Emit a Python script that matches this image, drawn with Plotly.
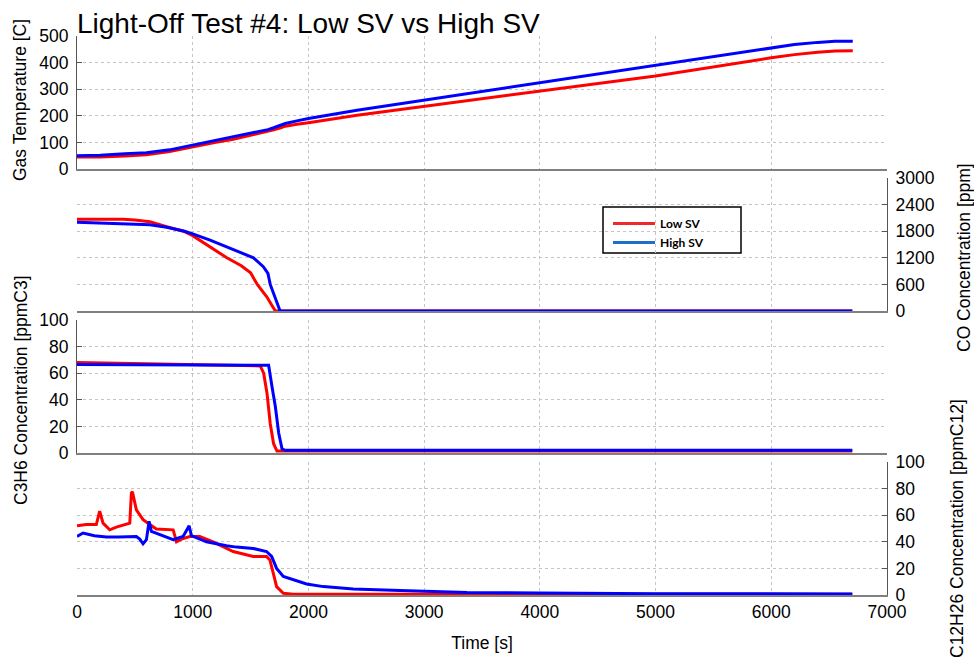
import plotly.graph_objects as go
from plotly.subplots import make_subplots

# ---------------- data ----------------
temp_time = [0, 200, 414, 600, 800, 1000, 1200, 1340, 1500, 1650, 1700, 1760, 1800, 1900,
             2000, 2420, 3000, 3500, 4000, 4174, 5000, 6000, 6200, 6400, 6550, 6704]
temp_low = [45, 45, 49, 54, 66, 84, 100, 111, 127, 141, 147, 155, 161, 168,
            174, 202, 235, 264, 293, 303, 350, 418, 430, 439, 444, 445]
temp_high = [50, 52, 57, 61, 72, 90, 107, 119, 135, 148, 155, 166, 171, 181,
             190, 221, 259, 291, 323, 334, 388, 455, 468, 476, 480, 480]

co_low_time = [0, 200, 400, 500, 630, 775, 920, 1000, 1150, 1295, 1420, 1500, 1558,
               1640, 1690, 1715, 6700]
co_low = [2072, 2078, 2068, 2055, 2015, 1900, 1800, 1700, 1440, 1200, 1020, 860, 600,
          320, 100, 0, 0]
co_high_time = [0, 200, 400, 500, 630, 775, 930, 1000, 1150, 1320, 1460, 1525, 1610,
                1650, 1670, 1690, 1715, 1755, 6700]
co_high = [2000, 1985, 1968, 1960, 1945, 1890, 1800, 1740, 1600, 1420, 1260, 1200, 1000,
           850, 600, 450, 250, 0, 0]

c3h6_low_time = [0, 300, 700, 1000, 1400, 1584, 1613, 1642, 1670, 1699, 1728, 1800, 6700]
c3h6_low = [68, 67.5, 67, 66.5, 66, 65.5, 60, 45, 22, 7, 1.5, 1.5, 1.5]
c3h6_high_time = [0, 500, 1000, 1500, 1656, 1685, 1714, 1743, 1772, 1800, 6700]
c3h6_high = [66.5, 66.5, 66, 66, 66, 50, 35, 15, 3, 2, 2]

c12_low_time = [0, 81, 167, 196, 225, 283, 340, 456, 470, 479, 513, 571, 629, 686, 831,
                860, 903, 975, 1061, 1177, 1350, 1523, 1638, 1667, 1696, 1725, 1783,
                1869, 6700]
c12_low = [52, 53, 53, 63, 54, 49, 51, 54, 76.8, 77.6, 64, 56.7, 53, 49.6, 49,
           40, 42, 44, 44, 40, 32.7, 29, 29, 26.4, 16.4, 6.3, 1.3, 0.5, 0.5]
c12_high_time = [0, 52, 150, 254, 360, 513, 542, 571, 600, 623, 643, 715, 831, 917, 969,
                 989, 1119, 1292, 1379, 1523, 1638, 1682, 1725, 1783, 1869, 1984, 2129,
                 2388, 2792, 3369, 4000, 4950, 5000, 6700]
c12_high = [44, 46.6, 44.6, 43.6, 43.6, 44, 42, 38.5, 41.6, 55.4, 47.9, 45.3, 41.6, 44, 52,
            44.6, 40, 37, 36, 35, 32.7, 29, 20, 13.9, 11.3, 8.3, 6.3,
            4.5, 3.3, 1.8, 1.5, 1.5, 1.0, 0.8]

series_names = ["Low SV", "High SV"]
line_colors = ["#ff0000", "#0000ff"]
legend_colors = ["#f0282c", "#1f6fc8"]

title_text = "Light-Off Test #4: Low SV vs High SV"
y_titles = ["Gas Temperature [C]", "CO Concentration [ppm]",
            "C3H6 Concentration [ppmC3]", "C12H26 Concentration [ppmC12]"]
y_ranges = [[0, 500], [0, 3000], [0, 100], [0, 100]]
y_dticks = [100, 600, 20, 20]
y_sides = ["left", "right", "left", "right"]
x_ticks = [0, 1000, 2000, 3000, 4000, 5000, 6000, 7000]

# ---------------- figure ----------------
W, H = 974, 666
ML, MR, MT, MB = 77, 87, 36, 71
PW, PH = W - ML - MR, H - MT - MB
gap = 9 / PH

fig = make_subplots(rows=4, cols=1, shared_xaxes=True, vertical_spacing=gap)

panels = [
    ((temp_time, temp_low), (temp_time, temp_high)),
    ((co_low_time, co_low), (co_high_time, co_high)),
    ((c3h6_low_time, c3h6_low), (c3h6_high_time, c3h6_high)),
    ((c12_low_time, c12_low), (c12_high_time, c12_high)),
]
for r, pair in enumerate(panels, start=1):
    for k, (xs, ys) in enumerate(pair):
        fig.add_trace(go.Scatter(x=xs, y=ys, mode="lines", name=series_names[k],
                                 line=dict(color=line_colors[k], width=3),
                                 showlegend=False), row=r, col=1)

# legend entries
for k in range(2):
    fig.add_trace(go.Scatter(x=[None], y=[None], mode="lines", name=series_names[k],
                             line=dict(color=legend_colors[k], width=3),
                             showlegend=True), row=2, col=1)

FONT = "Liberation Sans, Arial, sans-serif"
GRID = "#c4c4c4"

for r in range(1, 5):
    fig.update_xaxes(range=[0, 7000], tickvals=x_ticks, showgrid=True, gridcolor=GRID,
                     griddash="dot", gridwidth=1, showline=True, linecolor="#808080",
                     linewidth=2, zeroline=False, ticks="", showticklabels=(r == 4),
                     tickfont=dict(family=FONT, size=17.5, color="black"),
                     row=r, col=1)
    fig.update_yaxes(range=y_ranges[r - 1], dtick=y_dticks[r - 1], side=y_sides[r - 1],
                     showgrid=True, gridcolor=GRID, griddash="dot", gridwidth=1,
                     showline=True, linecolor="#555555", linewidth=1, zeroline=False,
                     ticks="inside", ticklen=5, tickcolor="#555555",
                     tickfont=dict(family=FONT, size=17.5, color="black"),
                     ticklabelstandoff=4, row=r, col=1)

fig.update_xaxes(title=dict(text="Time [s]", font=dict(family=FONT, size=17.5, color="black"),
                            standoff=16), row=4, col=1)

def px_to_px(x):
    return (x - ML) / PW

def py_to_py(y):
    return 1 - (y - MT) / PH

annos = []
title_pos = [(20, 100), (964, 258), (21, 390), (957, 529)]
for t, (ax_, ay_) in zip(y_titles, title_pos):
    annos.append(dict(text=t, xref="paper", yref="paper", x=px_to_px(ax_), y=py_to_py(ay_),
                      xanchor="center", yanchor="middle", textangle=-90, showarrow=False,
                      font=dict(family=FONT, size=17.5, color="black")))

fig.update_layout(
    width=W, height=H,
    margin=dict(l=ML, r=MR, t=MT, b=MB),
    paper_bgcolor="white", plot_bgcolor="white",
    title=dict(text=title_text, xref="container", x=77 / W, xanchor="left",
               yref="container", y=1 - 23 / H, yanchor="middle",
               font=dict(family=FONT, size=28, color="black")),
    annotations=annos,
    showlegend=True,
    legend=dict(x=px_to_px(608), y=py_to_py(209), xanchor="left", yanchor="top",
                bgcolor="rgba(0,0,0,0)", borderwidth=0,
                font=dict(family="Lato, Carlito, sans-serif", size=12, color="black",
                          weight="bold"),
                itemwidth=42),
    shapes=[dict(type="rect", xref="paper", yref="paper",
                 x0=px_to_px(603), x1=px_to_px(741), y0=py_to_py(253), y1=py_to_py(207),
                 line=dict(color="black", width=1.5), fillcolor="white", layer="below")],
)

fig.write_html("out.html")
